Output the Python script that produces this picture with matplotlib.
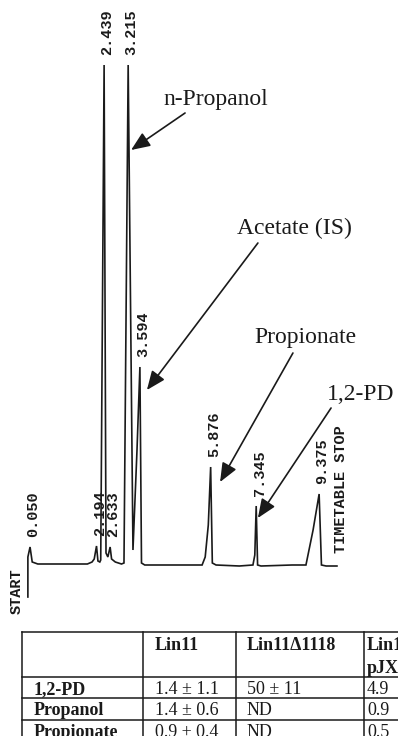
import matplotlib.pyplot as plt

# GC trace: retention time (min) and detector signal (arb. units)
trace_time = [-0.02, -0.02, 0.05, 0.12, 0.30, 1.00, 1.90, 2.05, 2.12, 2.194,
              2.24, 2.30, 2.33, 2.439, 2.50, 2.56, 2.633, 2.68, 2.80, 3.00,
              3.08, 3.215, 3.37, 3.50, 3.594, 3.645, 3.75, 4.50, 5.60, 5.70,
              5.80, 5.876, 5.93, 6.05, 6.80, 7.24, 7.30, 7.345, 7.39, 7.50,
              8.50, 8.95, 9.18, 9.375, 9.45, 9.60, 9.95]
trace_signal = [-32, 8, 18, 3, 1, 1, 1, 3, 6, 19,
                4, 3, 5, 500, 12, 8, 18, 6, 3, 1,
                2, 500, 15, 115, 198, 2, 0, 0, 0, 8,
                40, 98, 2, 0, -1, 0, 10, 59, 0, -1,
                0, 0, 35, 71, 0, -1, -1]

peak_rt = [0.050, 2.194, 2.439, 2.633, 3.215, 3.594, 5.876, 7.345, 9.375]
peak_height = [18, 19, 500, 18, 500, 198, 98, 59, 71]

# compound call-outs: label anchor, arrow tail, arrow tip (time, signal)
compounds = ["n-Propanol", "Acetate (IS)", "Propionate", "1,2-PD"]
label_pos = [(4.34, 465), (6.73, 337), (7.27, 227), (9.63, 170)]
arrow_tail = [(5.05, 452), (7.40, 322), (8.53, 212), (9.76, 157)]
arrow_tip = [(3.31, 415), (3.82, 175), (6.18, 83), (7.40, 47)]

# table under the chromatogram (cut off on the right in the figure)
col_headers = ["", "Lin11", "Lin11\u03941118", "Lin11\u03941118\npJX"]
row_names = ["1,2-PD", "Propanol", "Propionate"]
cell_values = [["1.4 \u00b1 1.1", "50 \u00b1 11", "4.9"],
               ["1.4 \u00b1 0.6", "ND", "0.9"],
               ["0.9 \u00b1 0.4", "ND", "0.5"]]

ink = "#1a1a1a"
mono = "Liberation Mono"
serif = "Liberation Serif"

fig = plt.figure(figsize=(3.98, 7.36), dpi=100)

# --- chromatogram ---
ax = fig.add_axes([0, 116 / 736, 1, 620 / 736])
ax.plot(trace_time, trace_signal, color=ink, lw=1.2, solid_joinstyle="miter")
ax.set_xlim(-28.5 / 31, (398 - 28.5) / 31)
ax.set_ylim(-55, 565)
ax.axis("off")

for rt, h in zip(peak_rt, peak_height):
    ax.annotate(f"{rt:.3f}", xy=(rt, h), xytext=(2.5, 7), textcoords="offset points",
                rotation=90, ha="center", va="bottom", fontsize=11,
                family=mono, weight="bold", color=ink)

ax.text(10.08, 12, "TIMETABLE STOP", rotation=90, ha="center", va="bottom",
        fontsize=11, family=mono, weight="bold", color=ink)
ax.text(-0.37, -3, "START", rotation=90, ha="center", va="top",
        fontsize=11, family=mono, weight="bold", color=ink)

for name, lp, tail, tip in zip(compounds, label_pos, arrow_tail, arrow_tip):
    ax.text(lp[0], lp[1], name, ha="left", va="center", fontsize=17,
            family=serif, color=ink)
    ax.annotate("", xy=tip, xytext=tail,
                arrowprops=dict(arrowstyle="-|>,head_length=1.15,head_width=0.48",
                                mutation_scale=10, lw=1.2, color=ink,
                                shrinkA=0, shrinkB=0))

# --- table ---
tx = fig.add_axes([0, 0, 1, 116 / 736])
tx.set_xlim(0, 398)
tx.set_ylim(736, 620)
tx.axis("off")

col_edges = [22, 143, 236, 364, 520]
row_edges = [632, 677, 698, 720, 742]
text_pad = [12, 12, 11, 3]
for x in col_edges[:-1]:
    tx.plot([x, x], [row_edges[0], 800], color=ink, lw=1.1, clip_on=True)
for y in row_edges[:-1]:
    tx.plot([col_edges[0], 520], [y, y], color=ink, lw=1.1, clip_on=True)

head_baselines = [650, 673]
for j, head in enumerate(col_headers):
    for k, line in enumerate(head.split("\n")):
        tx.text(col_edges[j] + text_pad[j], head_baselines[k], line, ha="left",
                va="baseline", fontsize=13, family=serif, weight="bold",
                color=ink, clip_on=True)

row_baselines = [694, 715, 737]
for i, name in enumerate(row_names):
    tx.text(col_edges[0] + text_pad[0], row_baselines[i], name, ha="left",
            va="baseline", fontsize=13, family=serif, weight="bold", color=ink,
            clip_on=True)
    for j, val in enumerate(cell_values[i]):
        tx.text(col_edges[j + 1] + text_pad[j + 1], row_baselines[i], val,
                ha="left", va="baseline", fontsize=13, family=serif, color=ink,
                clip_on=True)

fig.savefig("out.png", dpi=100)
